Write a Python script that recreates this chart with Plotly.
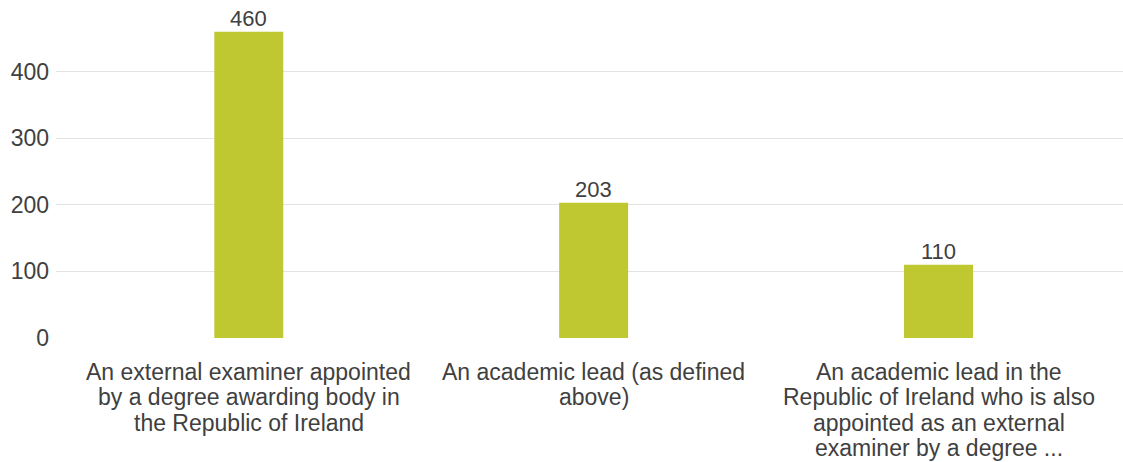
import plotly.graph_objects as go

categories = [
    "An external examiner appointed|by a degree awarding body in|the Republic of Ireland",
    "An academic lead (as defined|above)",
    "An academic lead in the|Republic of Ireland who is also|appointed as an external|examiner by a degree ...",
]
values = [460, 203, 110]
y_ticks = [0, 100, 200, 300, 400]

keys = [c.replace("|", " ") for c in categories]

BAR = "#BFC830"
TXT = "#404040"
FONT = "Liberation Sans, Arial, sans-serif"

fig = go.Figure()
fig.add_trace(go.Bar(
    x=keys, y=values, width=0.2,
    marker=dict(color=BAR, line=dict(width=0)),
    hoverinfo="x+y",
))

for key, v in zip(keys, values):
    fig.add_annotation(
        x=key, y=v, xref="x", yref="y", text=str(v), showarrow=False,
        yanchor="bottom", xanchor="center", yshift=-1,
        font=dict(size=22, color=TXT, family=FONT),
    )

line_gap = 25.5
first = 33.5
for key, lab in zip(keys, categories):
    for i, ln in enumerate(lab.split("|")):
        fig.add_annotation(
            x=key, y=0, xref="x", yref="y", text=ln, showarrow=False,
            yanchor="middle", xanchor="center", yshift=-(first + i * line_gap),
            font=dict(size=23, color=TXT, family=FONT),
        )

fig.update_layout(
    width=1123, height=462,
    margin=dict(l=56, r=0, t=5, b=124),
    paper_bgcolor="white", plot_bgcolor="white",
    showlegend=False,
    font=dict(family=FONT, color=TXT),
    xaxis=dict(range=[-0.559, 2.535], showticklabels=False, showgrid=False,
               zeroline=False, showline=False, fixedrange=True),
    yaxis=dict(range=[0, 500], tickvals=y_ticks, showgrid=True, gridcolor="#E3E3E3",
               gridwidth=1, zeroline=False, showline=False,
               tickfont=dict(size=23, color=TXT, family=FONT), ticklabelstandoff=6),
)

fig.write_html(
    "out.html",
    config={"displayModeBar": False},
    post_script="document.body.style.margin='0';document.body.style.overflow='hidden';",
)
